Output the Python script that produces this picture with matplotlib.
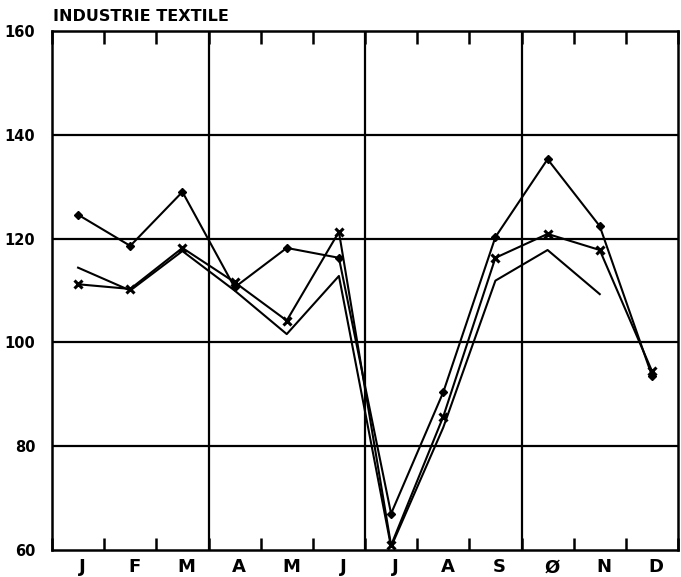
import matplotlib
matplotlib.use("Agg")
import matplotlib.pyplot as plt
import numpy as np

months = ["J", "F", "M", "A", "M", "J", "J", "A", "S", "Ø", "N", "D"]
series_diamond = [124.6, 118.6, 129.0, 110.6, 118.2, 116.3, 67.0, 90.4, 120.3, 135.3, 122.4, 93.6]
series_cross = [111.2, 110.3, 118.2, 111.6, 104.2, 121.3, 60.9, 85.7, 116.3, 120.9, 117.8, 94.5]
series_plain = [114.4, 110.0, 117.6, 110.0, 101.6, 112.8, 60.6, 83.6, 111.9, 117.8, 109.3]
yticks = [60, 80, 100, 120, 140, 160]
title = "INDUSTRIE TEXTILE"

W, H = 681, 577
fig = plt.figure(figsize=(W / 100, H / 100), dpi=100)
left, right, top, bottom = 52, 678, 31, 550
ax = fig.add_axes([left / W, 1 - bottom / H, (right - left) / W, (bottom - top) / H])

x = np.arange(len(months))
lw = 1.5
ax.plot(x, series_diamond, color="black", lw=lw, marker="D", ms=4, mfc="black", mec="black", zorder=3)
ax.plot(x, series_cross, color="black", lw=lw, marker="x", ms=6, mew=2.2, mec="black", zorder=3)
ax.plot(x[:len(series_plain)], series_plain, color="black", lw=lw, zorder=3)

ax.set_xlim(-0.5, len(months) - 0.5)
ax.set_ylim(60, 160)

# horizontal grid
for yv in yticks[1:-1]:
    ax.axhline(yv, color="black", lw=1.6, zorder=1)
# vertical grid at quarter boundaries
for xv in [2.5, 5.5, 8.5]:
    ax.axvline(xv, color="black", lw=1.6, zorder=1)

for s in ax.spines.values():
    s.set_linewidth(1.8)

fs = dict(fontweight="bold", family=["DejaVu Sans"])
ax.set_yticks(yticks)
ax.set_yticklabels([str(v) for v in yticks], fontsize=10.5, **fs)
ax.tick_params(axis="y", length=0, pad=12)

bounds = np.arange(-0.5, len(months), 1.0)
ax.set_xticks(bounds)
ax.set_xticklabels([])
ax.tick_params(axis="x", which="major", direction="in", length=9, width=1.8, top=True, bottom=True)
ax.set_xticks(x + 0.08, minor=True)
ax.set_xticklabels(months, minor=True, fontsize=13, **fs)
ax.tick_params(axis="x", which="minor", length=0, pad=6)

fig.text(53 / W, 1 - 21 / H, title, fontsize=11.5, ha="left", va="baseline", **fs)

fig.savefig("out.png", dpi=100)
